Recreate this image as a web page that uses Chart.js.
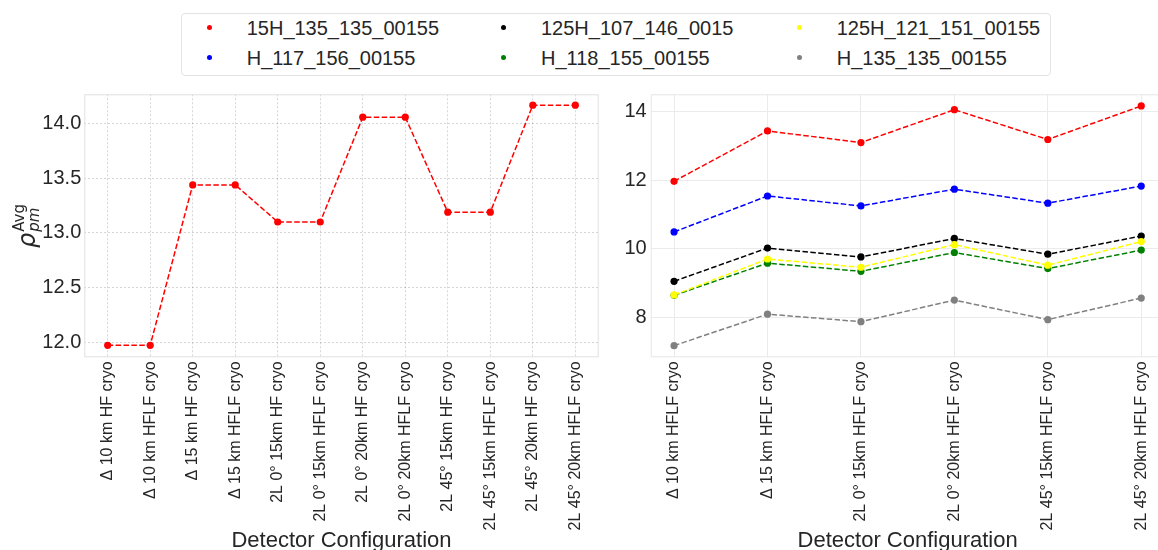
<!DOCTYPE html>
<html><head><meta charset="utf-8">
<script src="https://cdn.jsdelivr.net/npm/chart.js@4.4.1/dist/chart.umd.min.js"></script>
<style>
html,body{margin:0;padding:0;width:1158px;height:550px;overflow:hidden;background:#fff;font-family:"Liberation Sans",Arial,sans-serif;position:relative;}
#wrapL{position:absolute;left:0;top:0;width:610px;height:560px;}
#wrapR{position:absolute;left:600px;top:0;width:580px;height:560px;}
#legendBox{position:absolute;left:181px;top:12.5px;width:870px;height:63.5px;border:1px solid #e3e3e3;border-radius:4px;background:#fff;box-sizing:border-box;}
.li{position:absolute;font-size:20px;color:#262626;white-space:nowrap;line-height:20px;}
.dot{position:absolute;width:5px;height:5px;border-radius:50%;}
#ylab{position:absolute;left:27px;top:226px;transform:translate(-50%,-50%) rotate(-90deg);white-space:nowrap;font-family:"DejaVu Sans",sans-serif;color:#262626;display:flex;align-items:center;}
#ylab .rho{font-style:italic;font-size:24px;line-height:24px;}
#ylab .ss{display:inline-flex;flex-direction:column;font-size:15px;line-height:15px;margin-left:1px;}
#ylab .sub{font-style:italic;}
</style>
</head><body>
<div id="wrapL"><canvas id="cL" width="610" height="560"></canvas></div>
<div id="wrapR"><canvas id="cR" width="580" height="560"></canvas></div>
<div id="legendBox"></div>
<div id="ylab"><span class="rho">ρ</span><span class="ss"><span class="sup">Avg</span><span class="sub">pm</span></span></div>
<script>
// ---- data ----
const leftCategories = ['Δ 10 km HF cryo','Δ 10 km HFLF cryo','Δ 15 km HF cryo','Δ 15 km HFLF cryo',
  '2L 0° 15km HF cryo','2L 0° 15km HFLF cryo','2L 0° 20km HF cryo','2L 0° 20km HFLF cryo',
  '2L 45° 15km HF cryo','2L 45° 15km HFLF cryo','2L 45° 20km HF cryo','2L 45° 20km HFLF cryo'];
const leftValues = [11.97,11.97,13.44,13.44,13.10,13.10,14.06,14.06,13.19,13.19,14.17,14.17];
const leftYTicks = [12.0,12.5,13.0,13.5,14.0];

const rightCategories = ['Δ 10 km HFLF cryo','Δ 15 km HFLF cryo','2L 0° 15km HFLF cryo',
  '2L 0° 20km HFLF cryo','2L 45° 15km HFLF cryo','2L 45° 20km HFLF cryo'];
const rightYTicks = [8,10,12,14];
const seriesNames = ['15H_135_135_00155','H_117_156_00155','125H_107_146_0015','H_118_155_00155','125H_121_151_00155','H_135_135_00155'];
const seriesColors = ['#ff0000','#0000ff','#000000','#008000','#ffff00','#808080'];
const s15H_135_135 = [11.97,13.44,13.10,14.06,13.19,14.17];
const sH_117_156   = [10.49,11.54,11.25,11.74,11.33,11.83];
const s125H_107_146= [9.05,10.02,9.76,10.30,9.84,10.37];
const sH_118_155   = [8.64,9.58,9.34,9.89,9.42,9.96];
const s125H_121_151= [8.65,9.70,9.46,10.12,9.52,10.21];
const sH_135_135   = [7.17,8.09,7.87,8.50,7.93,8.56];
const rightSeries = [s15H_135_135,sH_117_156,s125H_107_146,sH_118_155,s125H_121_151,sH_135_135];

// ---- legend (column-major, 3 columns x 2 rows) ----
const legCols = [209,503,799], legText=[246.7,541,836.7], legRows=[27.8,57.5];
seriesNames.forEach((n,i)=>{
  const c=Math.floor(i/2), r=i%2;
  const d=document.createElement('div'); d.className='dot';
  d.style.left=(legCols[c]-2.5)+'px'; d.style.top=(legRows[r]-2.5)+'px'; d.style.background=seriesColors[i];
  document.body.appendChild(d);
  const t=document.createElement('div'); t.className='li'; t.textContent=n;
  t.style.left=legText[c]+'px'; t.style.top=(legRows[r]-10)+'px';
  document.body.appendChild(t);
});

const FONT = '"Liberation Sans", Arial, sans-serif';
const TXT = '#262626';
const framePlugin = {
  id:'frame',
  beforeDatasetsDraw(chart,args,opts){
    const a=chart.chartArea, ctx=chart.ctx;
    ctx.save(); ctx.strokeStyle=opts.color||'#e3e3e3'; ctx.lineWidth=1;
    ctx.strokeRect(a.left+0.5,a.top+0.5,a.right-a.left-1,a.bottom-a.top-1);
    ctx.restore();
  }
};

function makeOpts(cfg){
  return {
    responsive:false, animation:false,
    layout:{padding:{top:94.3,right:cfg.padRight,left:0,bottom:0}},
    plugins:{legend:{display:false},tooltip:{enabled:false},frame:{color:cfg.frameColor}},
    scales:{
      x:{type:'linear',min:cfg.xmin,max:cfg.xmax,
        afterBuildTicks:s=>{s.ticks=cfg.cats.map((c,i)=>({value:i}));},
        afterFit:s=>{s.height=560-357.3;},
        ticks:{autoSkip:false,minRotation:90,maxRotation:90,padding:4,font:{size:16,family:FONT},color:TXT,
          callback:(v)=>cfg.cats[v]},
        grid:{color:cfg.gridColor,drawTicks:false,lineWidth:1},
        border:{display:false,dash:cfg.dash},
        title:{display:true,text:'Detector Configuration',font:{size:22,family:FONT},color:TXT,padding:{top:0,bottom:5.8}}
      },
      y:{min:cfg.ymin,max:cfg.ymax,
        afterBuildTicks:s=>{s.ticks=cfg.yticks.map(v=>({value:v}));},
        afterFit:s=>{s.width=cfg.yw;},
        ticks:{padding:cfg.ypad,font:{size:20,family:FONT},color:TXT,callback:(v)=>cfg.yfmt(v)},
        grid:{color:cfg.gridColor,drawTicks:false,lineWidth:1},
        border:{display:false,dash:cfg.dash}
      }
    }
  };
}
function ds(label,vals,color,i){
  return {label,data:vals.map((v,k)=>({x:k,y:v})),borderColor:color,backgroundColor:color,
    pointBackgroundColor:color,pointBorderWidth:0,pointRadius:3.6,borderWidth:1.5,borderDash:[5.5,2.4],
    tension:0,fill:false,order:-i};
}

new Chart(document.getElementById('cL'),{
  type:'line',
  data:{datasets:[ds(seriesNames[0],leftValues,seriesColors[0],0)]},
  options:makeOpts({cats:leftCategories,xmin:-0.55,xmax:11.55,ymin:11.86,ymax:14.27,yticks:leftYTicks,
    yw:84.3,padRight:11.3,ypad:3,yfmt:v=>v.toFixed(1),gridColor:'rgba(0,0,0,0.16)',dash:[2,2],frameColor:'#e0e0e0'}),
  plugins:[framePlugin]
});
new Chart(document.getElementById('cR'),{
  type:'line',
  data:{datasets:rightSeries.map((s,i)=>ds(seriesNames[i],s,seriesColors[i],i))},
  options:makeOpts({cats:rightCategories,xmin:-0.25,xmax:5.25,ymin:6.83,ymax:14.51,yticks:rightYTicks,
    yw:50.7,padRight:15.4,ypad:4,yfmt:v=>String(v),gridColor:'#ebebeb',dash:[],frameColor:'#e6e6e6'}),
  plugins:[framePlugin]
});
</script>
</body></html>
